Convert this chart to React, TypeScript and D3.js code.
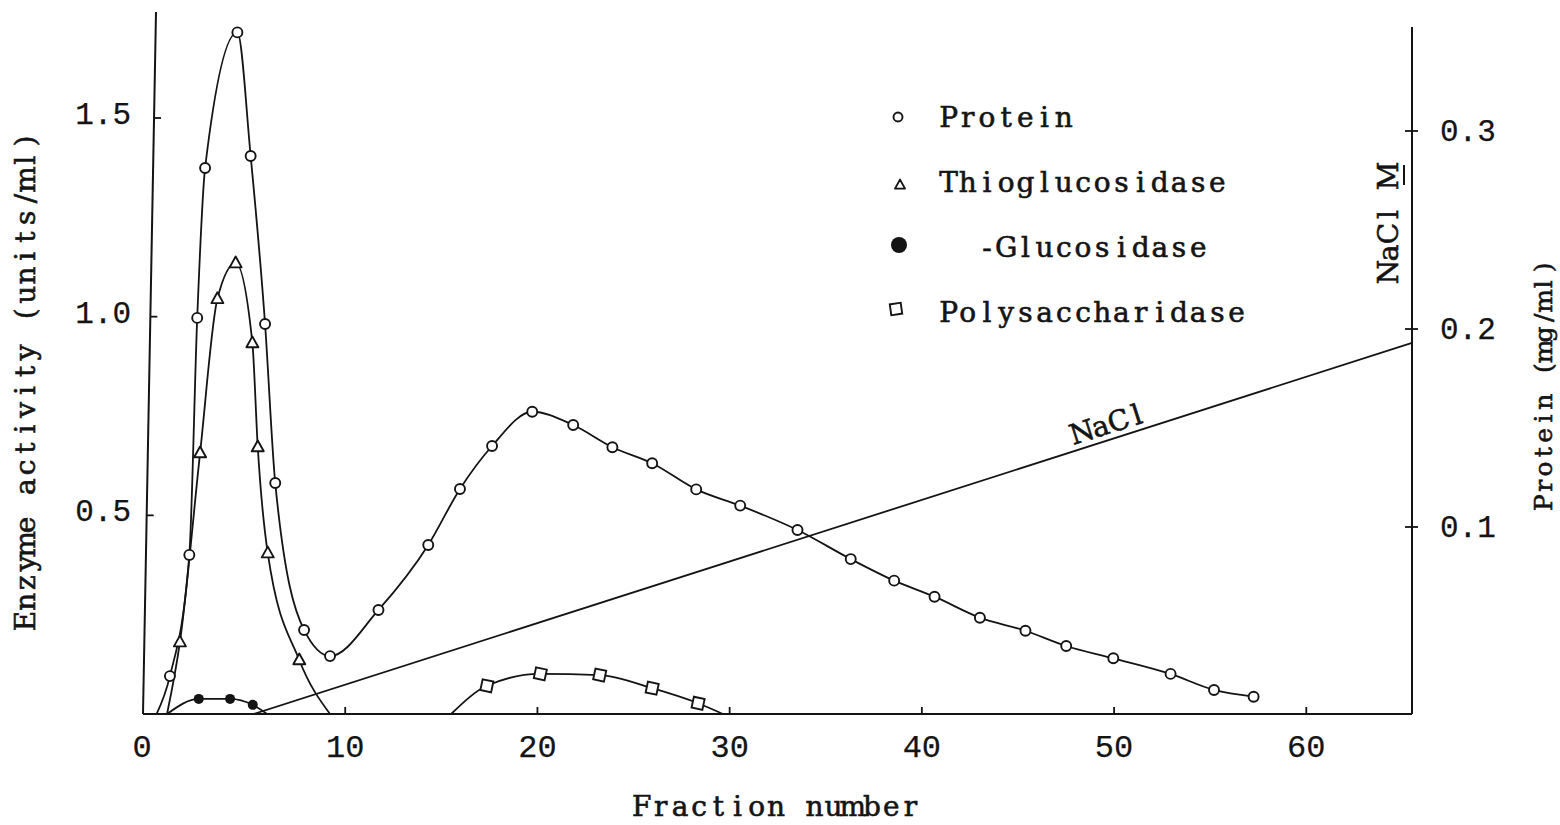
import React from 'react';
import * as d3 from 'd3';

// ---- data ----
const xTicks = [10, 20, 30, 40, 50, 60];
const leftTicks = [0.5, 1.0, 1.5];
const rightTicks = [0.1, 0.2, 0.3];

// Protein (mg/ml, right axis)
const proteinFraction = [0.88, 1.89, 2.30, 2.71, 4.39, 5.08, 5.83, 6.36, 7.86, 9.21, 11.73, 14.32, 15.97, 17.64, 19.73, 21.86, 23.90, 25.97, 28.26, 30.55, 33.53, 36.30, 38.56, 40.66, 43.02, 45.39, 47.51, 49.96, 52.94, 55.20, 57.26];
const proteinMgMl = [0.0247, 0.0859, 0.2056, 0.2813, 0.3498, 0.2874, 0.2025, 0.1222, 0.0480, 0.0348, 0.0581, 0.0909, 0.1192, 0.1409, 0.1582, 0.1515, 0.1403, 0.1322, 0.1190, 0.1108, 0.0985, 0.0838, 0.0729, 0.0648, 0.0542, 0.0476, 0.0399, 0.0337, 0.0258, 0.0177, 0.0143];
const proteinCurveStart = { f: 0.19, v: 0.0056 };

// Thioglucosidase (units/ml, left axis)
const thioFraction = [1.40, 2.45, 3.35, 4.30, 5.17, 5.45, 5.97, 7.61];
const thioUnits = [0.181, 0.657, 1.045, 1.135, 0.934, 0.672, 0.405, 0.136];
const thioCurveEnds = [0.73, 9.21];

// beta-Glucosidase (units/ml)
const betaFraction = [2.38, 4.01, 5.19];
const betaUnits = [0.038, 0.038, 0.023];
const betaCurveEnds = [0.73, 5.93];

// Polysaccharidase (units/ml)
const polyFraction = [17.37, 20.15, 23.24, 25.97, 28.36];
const polyUnits = [0.071, 0.101, 0.098, 0.065, 0.027];
const polyCurveEnds = [15.51, 29.65];

// NaCl gradient (M, right axis)
const naclFraction = [5.25, 65.5];
const naclMolar = [0.0056, 0.193];
const naclLabelFraction = 48.1;

const legendItems = ['Protein', 'Thioglucosidase', '-Glucosidase', 'Polysaccharidase'];

// ---- layout ----
const W = 1560, H = 825;
const BASE_Y = 714;
const TYPE_FONT = "'DejaVu Serif', 'Liberation Serif', serif";
const DIGIT_FONT = "'Liberation Mono', 'DejaVu Sans Mono', monospace";
const INK = '#141414';
const PITCH = 19.2;

const x = d3.scaleLinear().domain([0, 65.5]).range([153, 1412]);
const yL = d3.scaleLinear().domain([0, 1.5]).range([BASE_Y, 118]);
const yR = d3.scaleLinear().domain([0, 0.3]).range([725, 131]);

const leftAxisBottom = { x: 143, y: BASE_Y };
const leftAxisTop = { x: 156, y: 12 };
const leftAxisXAt = (yy: number) =>
  leftAxisBottom.x + (leftAxisTop.x - leftAxisBottom.x) * (leftAxisBottom.y - yy) / (leftAxisBottom.y - leftAxisTop.y);

const line = d3.line<[number, number]>().x(d => d[0]).y(d => d[1]).curve(d3.curveMonotoneX);

const digitStyle = (size: number): React.CSSProperties => ({
  fontFamily: DIGIT_FONT,
  fontSize: size,
  fill: INK,
  stroke: INK,
  strokeWidth: 0.25,
});

// typewriter-like text: every character in a fixed-pitch cell
function TypeText({ text, x0 = 0, y0 = 0, anchor = 'start', pitch = PITCH, size = 28, transform }:
  { text: string; x0?: number; y0?: number; anchor?: 'start' | 'middle' | 'end'; pitch?: number; size?: number; transform?: string }) {
  const n = text.length;
  const w = n * pitch;
  const start = anchor === 'middle' ? x0 - w / 2 : anchor === 'end' ? x0 - w : x0;
  const xs = Array.from({ length: n }, (_, i) => (start + (i + 0.5) * pitch).toFixed(2)).join(' ');
  return (
    <text x={xs} y={y0} transform={transform} textAnchor="middle"
      style={{ fontFamily: TYPE_FONT, fontSize: size, fill: INK, stroke: INK, strokeWidth: 0.6 }}>{text}</text>
  );
}

function Circle({ cx, cy, r = 5 }: { cx: number; cy: number; r?: number }) {
  return <circle cx={cx} cy={cy} r={r} fill="#fff" stroke={INK} strokeWidth={1.9} />;
}
function Tri({ cx, cy, s = 12 }: { cx: number; cy: number; s?: number }) {
  const h = s * 0.9;
  const p = `${cx},${cy - h * 0.6} ${cx - s / 2},${cy + h * 0.4} ${cx + s / 2},${cy + h * 0.4}`;
  return <polygon points={p} fill="#fff" stroke={INK} strokeWidth={1.9} strokeLinejoin="round" />;
}
function Sq({ cx, cy, s = 11, rot = 12 }: { cx: number; cy: number; s?: number; rot?: number }) {
  return (
    <rect x={cx - s / 2} y={cy - s / 2} width={s} height={s} fill="#fff" stroke={INK} strokeWidth={1.9}
      transform={`rotate(${rot} ${cx} ${cy})`} />
  );
}

export default function App() {
  const proteinPts: [number, number][] = [
    [x(proteinCurveStart.f), yR(proteinCurveStart.v)],
    ...proteinFraction.map((f, i) => [x(f), yR(proteinMgMl[i])] as [number, number]),
  ];
  const thioPts: [number, number][] = [
    [x(thioCurveEnds[0]), yL(0)],
    ...thioFraction.map((f, i) => [x(f), yL(thioUnits[i])] as [number, number]),
    [x(thioCurveEnds[1]), yL(0)],
  ];
  const betaPts: [number, number][] = [
    [x(betaCurveEnds[0]), yL(0)],
    ...betaFraction.map((f, i) => [x(f), yL(betaUnits[i])] as [number, number]),
    [x(betaCurveEnds[1]), yL(0)],
  ];
  const polyPts: [number, number][] = [
    [x(polyCurveEnds[0]), yL(0)],
    ...polyFraction.map((f, i) => [x(f), yL(polyUnits[i])] as [number, number]),
    [x(polyCurveEnds[1]), yL(0)],
  ];

  const n0: [number, number] = [x(naclFraction[0]), yR(naclMolar[0])];
  const n1: [number, number] = [x(naclFraction[1]), yR(naclMolar[1])];
  const ang = Math.atan2(n1[1] - n0[1], n1[0] - n0[0]);
  const t = (naclLabelFraction - naclFraction[0]) / (naclFraction[1] - naclFraction[0]);
  const lx = n0[0] + (n1[0] - n0[0]) * t + Math.sin(ang) * 6;
  const ly = n0[1] + (n1[1] - n0[1]) * t - Math.cos(ang) * 6;

  const legendX = 939;
  const legendBase = [127, 192, 257, 322];

  return (
    <svg width={W} height={H} style={{ position: 'absolute', left: 0, top: 0, background: '#fff' }}>
      <rect x={0} y={0} width={W} height={H} fill="#fff" />

      {/* axes */}
      <line x1={leftAxisBottom.x} y1={BASE_Y} x2={x.range()[1]} y2={BASE_Y} stroke={INK} strokeWidth={2.2} />
      <line x1={leftAxisBottom.x} y1={leftAxisBottom.y} x2={leftAxisTop.x} y2={leftAxisTop.y} stroke={INK} strokeWidth={2} />
      <line x1={x.range()[1]} y1={BASE_Y} x2={x.range()[1]} y2={27} stroke={INK} strokeWidth={2} />

      {/* x ticks */}
      {xTicks.map(tk => (
        <g key={'xt' + tk}>
          <line x1={x(tk)} x2={x(tk)} y1={BASE_Y} y2={BASE_Y - 7} stroke={INK} strokeWidth={1.8} />
          <text x={x(tk)} y={757} textAnchor="middle" style={digitStyle(32)}>{tk}</text>
        </g>
      ))}
      <text x={x(0)} dx={-11} y={757} textAnchor="middle" style={digitStyle(32)}>0</text>

      {/* left ticks */}
      {leftTicks.map(tk => {
        const yy = yL(tk);
        const ax = leftAxisXAt(yy);
        return (
          <g key={'lt' + tk}>
            <line x1={ax} x2={ax + 7} y1={yy} y2={yy} stroke={INK} strokeWidth={1.8} />
            <text x={131} y={yy + 6} textAnchor="end" style={digitStyle(31)}>{tk.toFixed(1)}</text>
          </g>
        );
      })}

      {/* right ticks */}
      {rightTicks.map(tk => (
        <g key={'rt' + tk}>
          <line x1={x.range()[1] - 7} x2={x.range()[1] + 6} y1={yR(tk)} y2={yR(tk)} stroke={INK} strokeWidth={1.8} />
          <text x={1440} y={yR(tk) + 10} style={digitStyle(31)}>{tk.toFixed(1)}</text>
        </g>
      ))}

      {/* axis titles */}
      <TypeText text="Fraction number" x0={776} y0={816} anchor="middle" />
      <TypeText text="Enzyme activity (units/ml)" transform="translate(35,381) rotate(-90)" anchor="middle" />
      <TypeText text="Protein (mg/ml)" transform="translate(1552,385) rotate(-90)" anchor="middle" pitch={16.8} size={25} />
      <TypeText text="NaCl M" transform="translate(1398,224) rotate(-90)" anchor="middle" />
      <line x1={1404} x2={1404} y1={165} y2={185} stroke={INK} strokeWidth={2} />

      {/* NaCl gradient */}
      <line x1={n0[0]} y1={n0[1]} x2={n1[0]} y2={n1[1]} stroke={INK} strokeWidth={1.8} />
      <TypeText text="NaCl" transform={`translate(${lx},${ly}) rotate(${(ang * 180) / Math.PI})`} />

      {/* curves */}
      <path d={line(proteinPts) || ''} fill="none" stroke={INK} strokeWidth={1.8} />
      <path d={line(thioPts) || ''} fill="none" stroke={INK} strokeWidth={1.8} />
      <path d={line(betaPts) || ''} fill="none" stroke={INK} strokeWidth={1.8} />
      <path d={line(polyPts) || ''} fill="none" stroke={INK} strokeWidth={1.8} />

      {/* markers */}
      {proteinFraction.map((f, i) => <Circle key={'p' + i} cx={x(f)} cy={yR(proteinMgMl[i])} />)}
      {thioFraction.map((f, i) => <Tri key={'t' + i} cx={x(f)} cy={yL(thioUnits[i])} />)}
      {betaFraction.map((f, i) => <circle key={'b' + i} cx={x(f)} cy={yL(betaUnits[i])} r={5} fill={INK} />)}
      {polyFraction.map((f, i) => <Sq key={'s' + i} cx={x(f)} cy={yL(polyUnits[i])} />)}

      {/* legend */}
      <Circle cx={898} cy={117} r={4.5} />
      <Tri cx={900} cy={185} s={10} />
      <circle cx={899} cy={245} r={8} fill={INK} />
      <Sq cx={896} cy={309} s={11} rot={-8} />
      {legendItems.map((lbl, i) => (
        <TypeText key={'lg' + i} text={lbl} x0={i === 2 ? legendX + 2 * PITCH : legendX} y0={legendBase[i]} />
      ))}
    </svg>
  );
}
